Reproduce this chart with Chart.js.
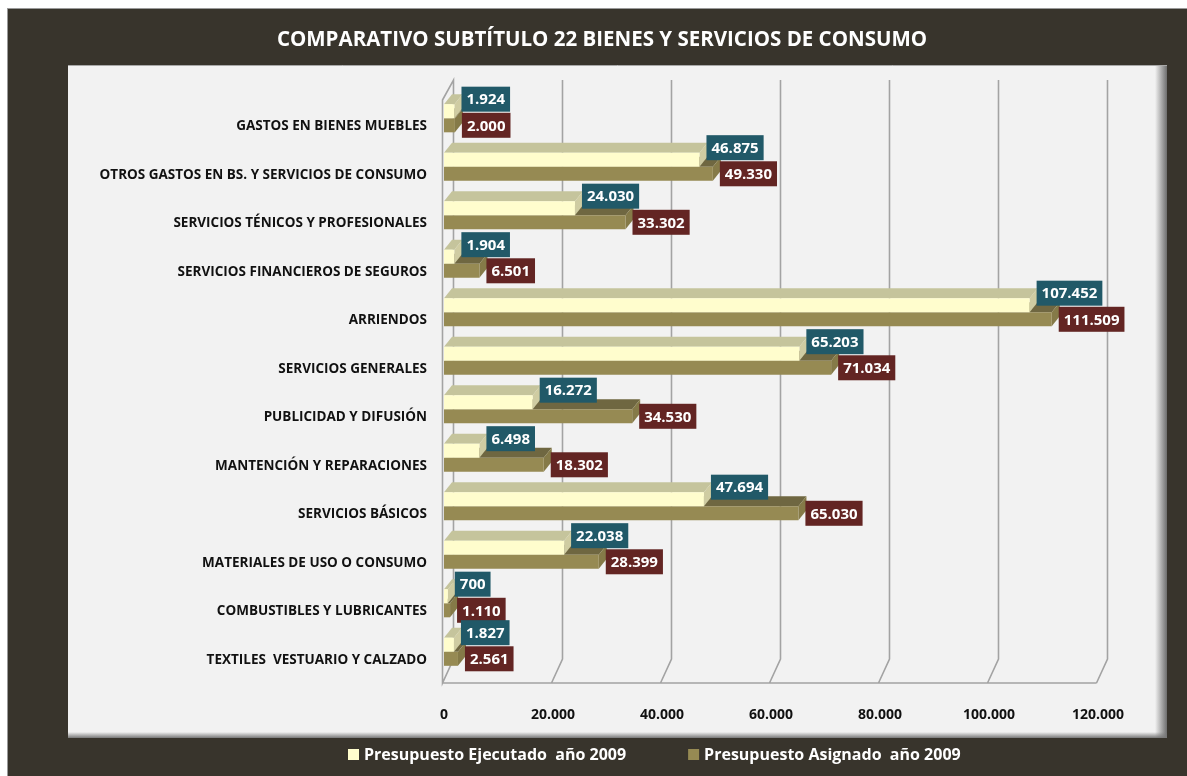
<!DOCTYPE html>
<html>
<head>
<meta charset="utf-8">
<title>Comparativo Subtítulo 22</title>
<script src="https://cdn.jsdelivr.net/npm/chart.js@4.4.0/dist/chart.umd.min.js"></script>
<style>
  html, body { margin: 0; padding: 0; background: #fff; }
</style>
</head>
<body>
<canvas id="budgetChart" width="1187" height="776"></canvas>
<script>
var categories = [
    "GASTOS EN BIENES MUEBLES",
    "OTROS GASTOS EN BS. Y SERVICIOS DE CONSUMO",
    "SERVICIOS TÉNICOS Y PROFESIONALES",
    "SERVICIOS FINANCIEROS DE SEGUROS",
    "ARRIENDOS",
    "SERVICIOS GENERALES",
    "PUBLICIDAD Y DIFUSIÓN",
    "MANTENCIÓN Y REPARACIONES",
    "SERVICIOS BÁSICOS",
    "MATERIALES DE USO O CONSUMO",
    "COMBUSTIBLES Y LUBRICANTES",
    "TEXTILES  VESTUARIO Y CALZADO"
];
var ejecutado = [1924, 46875, 24030, 1904, 107452, 65203, 16272, 6498, 47694, 22038, 700, 1827];
var asignado = [2000, 49330, 33302, 6501, 111509, 71034, 34530, 18302, 65030, 28399, 1110, 2561];
var xTicks = [0, 20000, 40000, 60000, 80000, 100000, 120000];
var seriesNames = ["Presupuesto Ejecutado  año 2009", "Presupuesto Asignado  año 2009"];
var chartTitle = "COMPARATIVO SUBTÍTULO 22 BIENES Y SERVICIOS DE CONSUMO";

var FONT = "'Open Sans', 'DejaVu Sans', sans-serif";
var DX = 8, DY = 10;

function miles(v) {
    return String(Math.round(v)).replace(/\B(?=(\d{3})+(?!\d))/g, ".");
}

// colors for the fake 3d faces, same order as datasets
var faces = [
    { top: "#c5c49c", side: "#cfcca2", box: "#215968" },
    { top: "#6f6741", side: "#857a48", box: "#632523" }
];

var backdrop = {
    id: "backdrop",
    beforeDraw: function (chart) {
        var c = chart.ctx;
        c.save();
        c.fillStyle = "#ffffff";
        c.fillRect(0, 0, chart.width, chart.height);
        c.fillStyle = "#38342c";
        c.fillRect(7, 8, chart.width - 7, chart.height - 8);
        c.strokeStyle = "#9a9a9a";
        c.lineWidth = 1;
        c.strokeRect(7.5, 8.5, chart.width, chart.height);

        // light panel
        c.fillStyle = "#f2f2f2";
        c.fillRect(68, 65, 1099, 673);
        var g = c.createLinearGradient(1155, 0, 1167, 0);
        g.addColorStop(0, "rgba(110,110,110,0)");
        g.addColorStop(1, "rgba(110,110,110,1)");
        c.fillStyle = g;
        c.fillRect(1155, 65, 12, 673);
        var gb = c.createLinearGradient(0, 732, 0, 738);
        gb.addColorStop(0, "rgba(120,120,120,0)");
        gb.addColorStop(1, "rgba(120,120,120,1)");
        c.fillStyle = gb;
        c.fillRect(68, 732, 1099, 6);
        c.strokeStyle = "#a8a8a8";
        c.beginPath();
        c.moveTo(68, 65.5);
        c.lineTo(1167, 65.5);
        c.stroke();

        // title, centred over the panel rather than the canvas
        c.font = "bold 20.5px " + FONT;
        c.fillStyle = "#ffffff";
        c.textAlign = "center";
        c.textBaseline = "middle";
        c.fillText(chartTitle, 602, 40);
        c.restore();
    },
    beforeDatasetsDraw: function (chart) {
        // walls and floor of the 3d box
        var c = chart.ctx, sx = chart.scales.x, a = chart.chartArea;
        var fx = function (v) { return sx.getPixelForValue(v) - 1.5; };
        var bx = function (v) { return sx.getPixelForValue(v) + 9.5; };
        var backTop = a.top - 14, backBot = a.bottom - 17;
        var frontTop = a.top + 6, frontBot = a.bottom + 7;
        var last = xTicks[xTicks.length - 1];
        c.save();
        c.strokeStyle = "#a3a3a3";
        c.lineWidth = 1.6;
        c.beginPath();
        c.moveTo(fx(0), frontTop);
        c.lineTo(bx(0), backTop);
        c.lineTo(bx(0), backBot);
        c.lineTo(fx(0), frontBot);
        c.closePath();
        c.moveTo(fx(0), frontBot);
        c.lineTo(fx(last), frontBot);
        xTicks.forEach(function (v) {
            if (v === 0) return;
            c.moveTo(bx(v), backTop);
            c.lineTo(bx(v), backBot);
            c.lineTo(fx(v), frontBot);
        });
        c.stroke();
        c.restore();
    },
    beforeDatasetDraw: function (chart, args) {
        var c = chart.ctx, f = faces[args.index];
        c.save();
        args.meta.data.forEach(function (el) {
            var p = el.getProps(["x", "y", "base", "height"], true);
            var t = p.y - p.height / 2, b = p.y + p.height / 2;
            c.fillStyle = f.top;
            c.beginPath();
            c.moveTo(p.base, t);
            c.lineTo(p.base + DX, t - DY);
            c.lineTo(p.x + DX, t - DY);
            c.lineTo(p.x, t);
            c.closePath();
            c.fill();
            c.fillStyle = f.side;
            c.beginPath();
            c.moveTo(p.x, t);
            c.lineTo(p.x + DX, t - DY);
            c.lineTo(p.x + DX, b - DY);
            c.lineTo(p.x, b);
            c.closePath();
            c.fill();
        });
        c.restore();
    },
    afterDatasetsDraw: function (chart) {
        // value boxes, second series first so the first sits on top
        var c = chart.ctx;
        c.save();
        c.font = "bold 15px " + FONT;
        c.textAlign = "center";
        c.textBaseline = "middle";
        for (var i = chart.data.datasets.length - 1; i >= 0; i--) {
            var ds = chart.data.datasets[i];
            chart.getDatasetMeta(i).data.forEach(function (el, j) {
                var p = el.getProps(["x", "y", "height"], true);
                var txt = miles(ds.data[j]);
                var w = c.measureText(txt).width + 10, h = 25;
                var cy = i === 0 ? p.y - p.height / 2 - 5 : p.y;
                var left = p.x + 7;
                c.fillStyle = faces[i].box;
                c.fillRect(left, cy - h / 2, w, h);
                c.fillStyle = "#ffffff";
                c.fillText(txt, left + w / 2, cy + 1);
            });
        }
        c.restore();
    },
    afterDraw: function (chart) {
        // legend in the dark strip under the panel
        var c = chart.ctx;
        c.save();
        c.font = "bold 16px " + FONT;
        c.textBaseline = "middle";
        var x = 348, y = 755;
        chart.data.datasets.forEach(function (ds) {
            c.fillStyle = ds.backgroundColor;
            c.fillRect(x, y - 6, 11, 11);
            c.fillStyle = "#ffffff";
            c.fillText(ds.label, x + 16, y);
            x += 16 + c.measureText(ds.label).width + 62;
        });
        c.restore();
    }
};

var ctx = document.getElementById("budgetChart").getContext("2d");
var budgetChart = new Chart(ctx, {
    type: "bar",
    data: {
        labels: categories,
        datasets: [
            {
                label: seriesNames[0],
                data: ejecutado,
                backgroundColor: "#fffdcd",
                borderWidth: 0,
                categoryPercentage: 0.58,
                barPercentage: 1,
            },
            {
                label: seriesNames[1],
                data: asignado,
                backgroundColor: "#968a53",
                borderWidth: 0,
                categoryPercentage: 0.58,
                barPercentage: 1,
            },
        ],
    },
    options: {
        indexAxis: "y",
        responsive: false,
        animation: false,
        layout: {
            padding: { left: 20, right: 89, top: 94, bottom: 50 },
        },
        scales: {
            x: {
                type: "linear",
                min: 0,
                max: 120000,
                grid: { display: false, drawTicks: false },
                border: { display: false },
                afterBuildTicks: function (scale) {
                    scale.ticks = xTicks.map(function (v) { return { value: v }; });
                },
                afterFit: function (scale) {
                    scale.height = 50;
                },
                ticks: {
                    padding: 31,
                    color: "#111111",
                    font: { family: FONT, size: 14, weight: "bold" },
                    callback: function (v) { return miles(v); },
                },
            },
            y: {
                grid: { display: false, drawTicks: false },
                border: { display: false },
                afterFit: function (scale) {
                    scale.width = 424;
                },
                ticks: {
                    padding: 17,
                    labelOffset: 8,
                    color: "#111111",
                    font: { family: FONT, size: 13.5, weight: "bold" },
                },
            },
        },
        plugins: {
            legend: { display: false },
            tooltip: { enabled: false },
        },
    },
    plugins: [backdrop],
});
</script>
</body>
</html>
